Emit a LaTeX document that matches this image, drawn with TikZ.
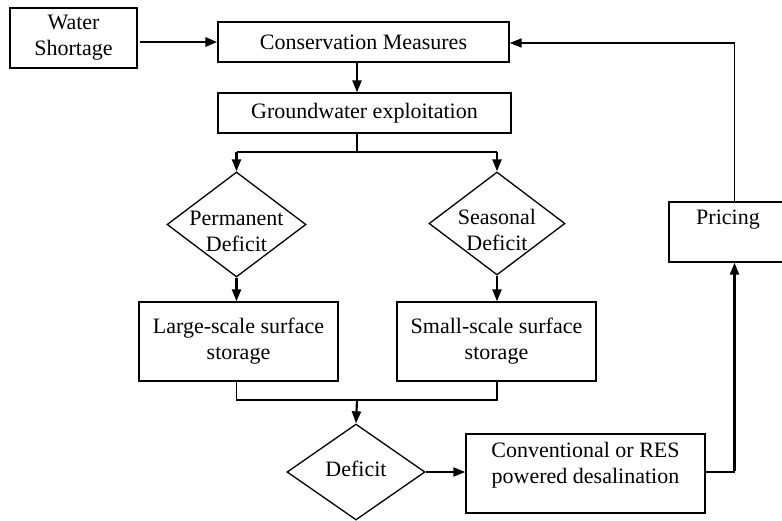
\documentclass[tikz,border=0pt]{standalone}
\usepackage{fontspec}
\setmainfont{Liberation Serif}
\usetikzlibrary{shapes.geometric,arrows.meta}
\begin{document}
\begin{tikzpicture}[x=1pt,y=-1pt,
  txtfont/.style={font=\fontsize{22}{26}\selectfont},
  box/.style={draw,line width=1.3pt,inner sep=0pt,align=center,txtfont},
  dia/.style={draw,shape=diamond,line width=1.3pt,inner sep=0pt},
  lab/.style={inner sep=0pt,align=center,txtfont},
  tip/.style={-{Triangle[length=12pt,width=9pt]}},
  thick arrow/.style={tip,line width=2.2pt},
  thin line/.style={line width=1.3pt},
  thin arrow/.style={tip,line width=1.5pt}]
\useasboundingbox (0,0) rectangle (782,520);
\fill[white] (0,0) rectangle (782,520);

% boxes
\node[box,minimum width=127pt,minimum height=60pt] (ws) at (73.5,38) {Water\\Shortage};
\node[box,minimum width=291pt,minimum height=40pt] (cm) at (363.5,42) {Conservation Measures};
\node[box,minimum width=293pt,minimum height=40pt] (gw) at (364.5,113) {Groundwater exploitation};
\node[dia,minimum width=139pt,minimum height=105pt] (pd) at (236.5,224.5) {};
\node[lab] (pdt) at (236.5,231) {Permanent\\Deficit};
\node[dia,minimum width=136pt,minimum height=103pt] (sd) at (497,223.5) {};
\node[lab] (sdt) at (497,230) {Seasonal\\Deficit};
\node[box,minimum width=199pt,minimum height=79pt] (ls) at (238.5,341.5) {Large-scale surface\\storage};
\node[box,minimum width=199pt,minimum height=79pt] (ss) at (496.5,341.5) {Small-scale surface\\storage};
\node[dia,minimum width=138pt,minimum height=96pt] (dd) at (356,472) {};
\node[lab] (ddt) at (356,468.5) {Deficit};
\node[box,minimum width=239pt,minimum height=79pt,text depth=22pt] (ds) at (585.5,473.5) {Conventional or RES\\powered desalination};
\node[box,minimum width=118pt,minimum height=60pt,text depth=30pt] (pr) at (728,232) {Pricing};

% helper coordinates
\coordinate (cx) at (357,0);
\coordinate (rx) at (734.5,0);
\coordinate (by) at (0,152);
\coordinate (my) at (0,400);
\coordinate (ty) at (0,43);

% connectors
\draw[tip,line width=2.8pt] ([xshift=2pt]ws.east |- cm.west) -- (cm.west);
\draw[thick arrow] (cm.south -| cx) -- (gw.north -| cx);
\draw[thin line] (gw.south -| cx) -- (cx |- by);
\draw[thin line] (pd.north |- by) -- (sd.north |- by);
\draw[thick arrow] (pd.north |- by) -- (pd.north);
\draw[thick arrow] (sd.north |- by) -- (sd.north);
\draw[thick arrow] (pd.south) -- (ls.north -| pd.south);
\draw[thick arrow] (sd.south) -- (ss.north -| sd.south);
\draw[thin line] (ls.south -| pd.south) -- (pd.south |- my) -- (sd.south |- my) -- (ss.south -| sd.south);
\draw[thick arrow] (cx |- my) -- (dd.north);
\draw[thick arrow] (dd.east) -- (ds.west |- dd.east);
\draw[thin line] (ds.east |- dd.east) -- (rx |- dd.east);
\draw[thick arrow] ([yshift=1pt]rx |- dd.east) -- (pr.south -| rx);
\draw[thin line] (pr.north -| rx) -- (rx |- ty);
\draw[thin arrow] (rx |- ty) -- (cm.east |- ty);
\end{tikzpicture}
\end{document}
